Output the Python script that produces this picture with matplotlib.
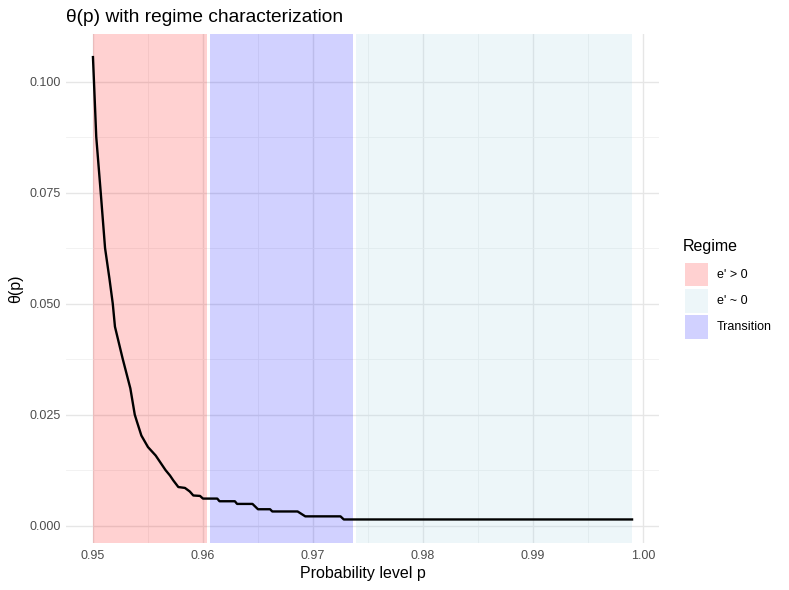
import numpy as np
import matplotlib
matplotlib.use("Agg")
import matplotlib.pyplot as plt
from matplotlib.patches import Rectangle

plt.rcParams['font.family'] = ['Liberation Sans', 'DejaVu Sans']

# theta(p) curve
p = [0.9500, 0.9503, 0.9507, 0.9511, 0.9515, 0.9518, 0.9520, 0.9527, 0.9534,
     0.9538, 0.9540, 0.9544, 0.9550, 0.9557, 0.9566, 0.9570, 0.9573, 0.95776,
     0.95836, 0.9588, 0.95912, 0.95973, 0.9600, 0.9613, 0.9615, 0.9629, 0.9631,
     0.9645, 0.9650, 0.9661, 0.9663, 0.9686, 0.9693, 0.9725, 0.9728, 0.9990]
theta = [0.1055, 0.0875, 0.0752, 0.0625, 0.0556, 0.0500, 0.0448, 0.0376, 0.0309,
         0.0250, 0.0234, 0.0203, 0.0177, 0.0158, 0.0125, 0.0113, 0.0102, 0.0087,
         0.0085, 0.0077, 0.0068, 0.0067, 0.0061, 0.0061, 0.0055, 0.0055, 0.0049,
         0.0049, 0.0037, 0.0037, 0.0032, 0.0032, 0.0021, 0.0021, 0.0014, 0.0014]

# regime spans
regimes = ["e' > 0", "e' ~ 0", "Transition"]
reg_start = [0.9500, 0.97391, 0.96064]
reg_end = [0.96036, 0.9990, 0.97364]
reg_colors = ["red", "lightblue", "blue"]
reg_alpha = [0.18, 0.22, 0.18]

W, H = 789, 590
fig = plt.figure(figsize=(W / 100, H / 100), dpi=100)
ax = fig.add_axes([66/W, 1 - 543/H, (659 - 66)/W, (543 - 34)/H])

ax.set_axisbelow(True)
for s, e, c, a in zip(reg_start, reg_end, reg_colors, reg_alpha):
    ax.axvspan(s, e, color=c, alpha=a, lw=0, zorder=1)

ax.plot(p, theta, color='black', lw=1.7, zorder=3)

ax.set_xlim(0.94755, 1.00145)
ax.set_ylim(-0.0039, 0.1107)
ax.set_xticks(np.arange(0.95, 1.001, 0.01))
ax.set_xticks(np.arange(0.955, 1.0, 0.01), minor=True)
ax.set_yticks(np.arange(0, 0.101, 0.025))
ax.set_yticks(np.arange(0.0125, 0.11, 0.025), minor=True)
ax.set_xticklabels(['%.2f' % v for v in np.arange(0.95, 1.001, 0.01)])
ax.set_yticklabels(['%.3f' % v for v in np.arange(0, 0.101, 0.025)])

ax.grid(True, which='major', color='#e6e6e6', lw=1.0, zorder=0)
ax.grid(True, which='minor', color='#f0f0f0', lw=0.6, zorder=0)
for sp in ax.spines.values():
    sp.set_visible(False)
ax.tick_params(which='both', length=0, labelsize=9, labelcolor='#4d4d4d')
ax.tick_params(axis='x', pad=5)
ax.tick_params(axis='y', pad=4)

ax.set_xlabel('Probability level p', fontsize=11.5, labelpad=3)
ax.set_ylabel('θ(p)', fontsize=11.5, labelpad=4)
fig.text(66/W, 1 - 17/H, 'θ(p) with regime characterization',
         fontsize=13.8, va='center', ha='left')

# legend, ggplot style keys
fig.text(683/W, 1 - 246/H, 'Regime', fontsize=11.5, va='center', ha='left')
key_top = [263, 289, 315]
for lab, c, a, top in zip(regimes, reg_colors, reg_alpha, key_top):
    fig.patches.append(Rectangle((685/W, 1 - (top + 23.5)/H), 23/W, 23.5/H,
                                 transform=fig.transFigure, facecolor=c,
                                 alpha=a, edgecolor='none'))
    fig.text(717/W, 1 - (top + 12)/H, lab, fontsize=9, va='center', ha='left')

fig.savefig('out.png', dpi=100)
